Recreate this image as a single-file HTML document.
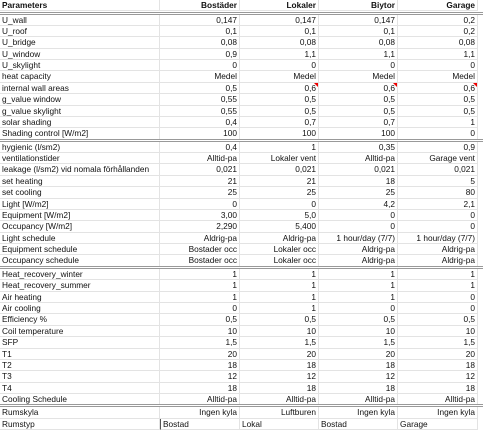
<!DOCTYPE html>
<html><head><meta charset="utf-8"><style>
html,body{margin:0;padding:0;background:#fff;width:483px;height:430px;overflow:hidden}
#t{position:relative;width:483px;height:430px;font-family:"Liberation Sans",sans-serif;font-size:8.3px;color:#111}
.c{position:absolute;height:11.4px;line-height:11.4px;white-space:nowrap;box-sizing:border-box;border-bottom:1px solid #e3e3e3;border-right:1px solid #e3e3e3;padding:0 2px;overflow:hidden}
.r{text-align:right}
.b{font-weight:bold}
.dl{position:absolute;left:0;width:483px;height:3px;border-top:1px solid #999;border-bottom:1px solid #999;box-sizing:border-box;background:#fff}
.tri{position:absolute;width:0;height:0;border-top:4px solid #e00;border-left:4px solid transparent}
</style></head><body>
<div id="t"></div>
<script>
const headers=["Parameters","Bostäder","Lokaler","Biytor","Garage"];
const rows=[
["U_wall","0,147","0,147","0,147","0,2"],
["U_roof","0,1","0,1","0,1","0,2"],
["U_bridge","0,08","0,08","0,08","0,08"],
["U_window","0,9","1,1","1,1","1,1"],
["U_skylight","0","0","0","0"],
["heat capacity","Medel","Medel","Medel","Medel"],
["internal wall areas","0,5","0,6","0,6","0,6"],
["g_value window","0,55","0,5","0,5","0,5"],
["g_value skylight","0,55","0,5","0,5","0,5"],
["solar shading","0,4","0,7","0,7","1"],
["Shading control [W/m2]","100","100","100","0"],
["hygienic (l/sm2)","0,4","1","0,35","0,9"],
["ventilationstider","Alltid-pa","Lokaler vent","Alltid-pa","Garage vent"],
["leakage (l/sm2) vid nomala förhållanden","0,021","0,021","0,021","0,021"],
["set heating","21","21","18","5"],
["set cooling","25","25","25","80"],
["Light [W/m2]","0","0","4,2","2,1"],
["Equipment [W/m2]","3,00","5,0","0","0"],
["Occupancy [W/m2]","2,290","5,400","0","0"],
["Light schedule","Aldrig-pa","Aldrig-pa","1 hour/day (7/7)","1 hour/day (7/7)"],
["Equipment schedule","Bostader occ","Lokaler occ","Aldrig-pa","Aldrig-pa"],
["Occupancy schedule","Bostader occ","Lokaler occ","Aldrig-pa","Aldrig-pa"],
["Heat_recovery_winter","1","1","1","1"],
["Heat_recovery_summer","1","1","1","1"],
["Air heating","1","1","1","0"],
["Air cooling","0","1","0","0"],
["Efficiency %","0,5","0,5","0,5","0,5"],
["Coil temperature","10","10","10","10"],
["SFP","1,5","1,5","1,5","1,5"],
["T1","20","20","20","20"],
["T2","18","18","18","18"],
["T3","12","12","12","12"],
["T4","18","18","18","18"],
["Cooling Schedule","Alltid-pa","Alltid-pa","Alltid-pa","Alltid-pa"],
["Rumskyla","Ingen kyla","Luftburen","Ingen kyla","Ingen kyla"],
["Rumstyp","Bostad","Lokal","Bostad","Garage"]
];
const colX=[0,160,240,319,398,478];
const rowH=11.38;
const t=document.getElementById('t');
function cell(txt,x,y,w,cls){
 const d=document.createElement('div');
 d.className='c '+cls;
 d.style.left=x+'px';d.style.top=y+'px';d.style.width=w+'px';
 d.textContent=txt;
 t.appendChild(d);return d;
}
headers.forEach((h,i)=>{
 const d=cell(h,colX[i],0,colX[i+1]-colX[i],'b'+(i?' r':''));
 
 
});
const hl=document.createElement('div');hl.className='dl';hl.style.top='11.5px';


t.appendChild(hl);
const breaks={11:1,22:1,34:1};
let y=14.5;
rows.forEach((r,ri)=>{
 if(breaks[ri]){
  const l=document.createElement('div');l.className='dl';l.style.top=(y-1)+'px';
  
  
  t.appendChild(l);y+=2;
 }
 r.forEach((v,ci)=>{
  const left=ri===35&&ci>0;
  const d=cell(v,colX[ci],y,colX[ci+1]-colX[ci],ci&&!left?'r':'');
  if(left&&ci===1){d.style.borderLeft='1px solid #555';}
  
  
  if(ri===6&&ci>1){
   const tr=document.createElement('div');tr.className='tri';
   tr.style.left=(colX[ci+1]-5)+'px';tr.style.top=(y)+'px';
   
   
   t.appendChild(tr);
  }
 });
 y+=rowH;
});
</script>
</body></html>
